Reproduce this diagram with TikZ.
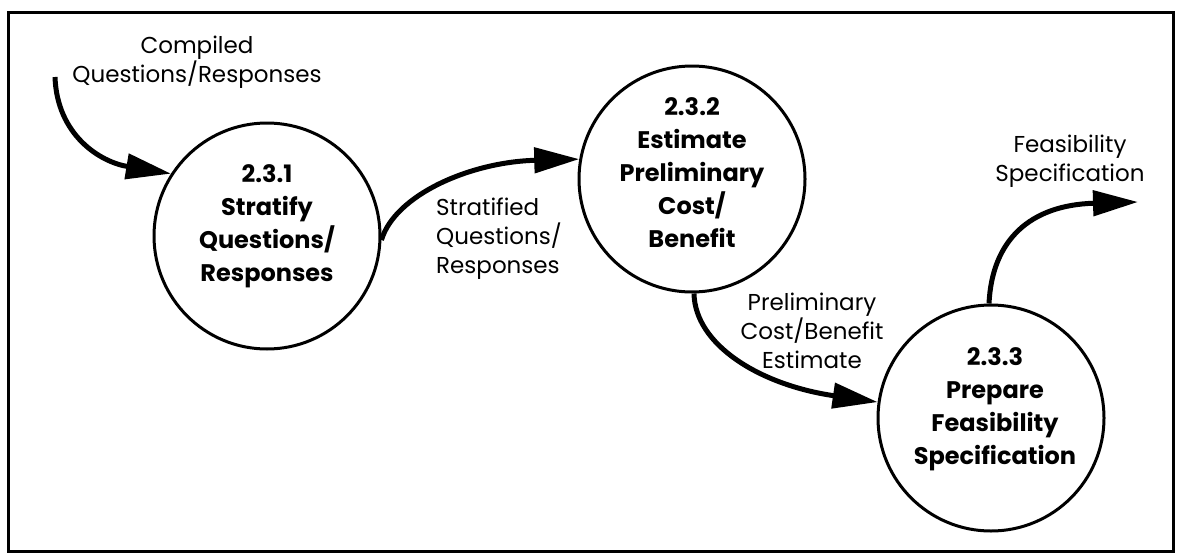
\documentclass[tikz,border=0pt]{standalone}
\usepackage{fontspec}
\setmainfont{Poppins}
\usetikzlibrary{arrows.meta}

\tikzset{
  process/.style={draw, circle, line width=3pt, minimum size=226pt, inner sep=0pt},
  proctext/.style={align=center, font=\bfseries\fontsize{24}{33}\selectfont, inner sep=0pt},
  flowlabel/.style={align=center, font=\fontsize{23}{29}\selectfont, inner sep=0pt},
  flow/.style={line width=5pt, -{Triangle[length=45pt, width=25pt]}},
}

\begin{document}
\begin{tikzpicture}[x=1pt, y=-1pt]
  \useasboundingbox (0,0) rectangle (1177,554);

  % outer frame
  \draw[line width=3pt] (8,12) rectangle (1173,551);

  % processes
  \node[process] (c1) at (267,236) {};
  \node[process] (c2) at (692,179) {};
  \node[process] (c3) at (991,418) {};

  \node[proctext] (t1) at (267,226) {2.3.1\\Stratify\\Questions/\\Responses};
  \node[proctext] (t2) at (692,173) {2.3.2\\Estimate\\Preliminary\\Cost/\\Benefit};
  \node[proctext] (t3) at (995,409) {2.3.3\\Prepare\\Feasibility\\Specification};

  % data flow labels
  \node[flowlabel] (l0) at (197,62) {Compiled\\Questions/Responses};
  \node[flowlabel, align=left, anchor=west] (l1) at (436,239) {Stratified\\Questions/\\Responses};
  \node[flowlabel] (l2) at (812,331) {Preliminary\\Cost/Benefit\\Estimate};
  \node[flowlabel] (l3) at (1070,161) {Feasibility\\Specification};

  % free ends of the external flows
  \coordinate (src) at (55,77);
  \coordinate (dst) at (1138,202);

  % data flows
  \draw[flow] (src) .. controls (57,135) and (100,162) .. (c1.147);
  \draw[flow] (c1.358) .. controls (395,195) and (470,162) .. (c2.170);
  \draw[flow] (c2.-89) .. controls (695,345) and (760,385) .. (c3.172);
  \draw[flow] (c3.91) .. controls (992,240) and (1030,205) .. (dst);
\end{tikzpicture}
\end{document}
